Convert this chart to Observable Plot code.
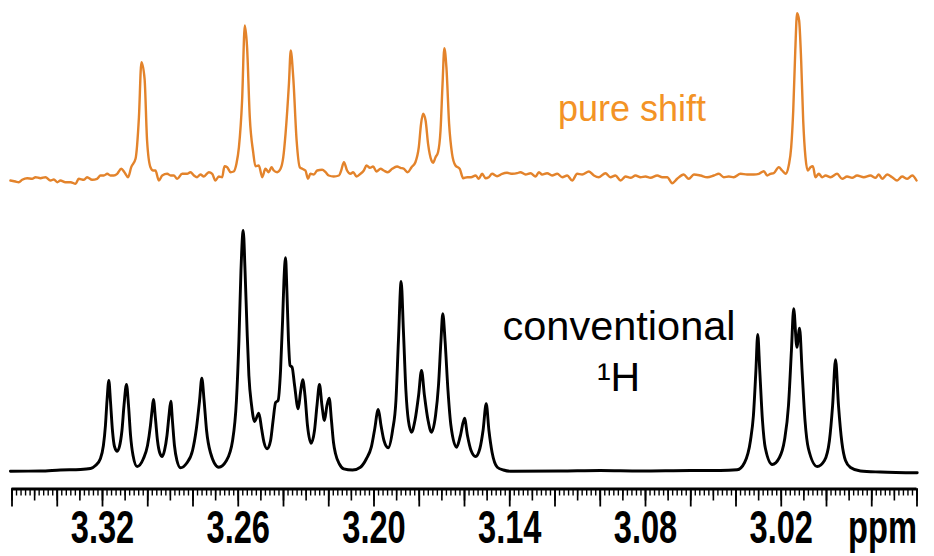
<!DOCTYPE html>
<html><head><meta charset="utf-8">
<script src="https://cdn.jsdelivr.net/npm/d3@7"></script>
<script src="https://cdn.jsdelivr.net/npm/@observablehq/plot@0.6"></script>
<style>body{margin:0;background:#fff} #chart svg{display:block}</style>
</head><body><div id="chart"></div>
<script>
// Conventional 1H spectrum: [chemical shift (ppm), intensity (a.u.)]
const conventional = [[3.3607,0],[3.3474,0.2],[3.3386,1.2],[3.3297,1.7],[3.3253,2.7],[3.3231,5.7],[3.3209,12.7],[3.3196,25.7],[3.3187,45.7],[3.3180,70.7],[3.3172,90.7],[3.3165,70.7],[3.3156,40.7],[3.3147,24.7],[3.3135,20],[3.3125,24.7],[3.3114,40.7],[3.3105,65.7],[3.3094,86.7],[3.3085,65.7],[3.3076,35.7],[3.3065,15.7],[3.3047,4.7],[3.3019,12.7],[3.3001,25.7],[3.2988,45.7],[3.2981,60.7],[3.2975,71.7],[3.2966,52.7],[3.2957,30.7],[3.2946,17.7],[3.2936,14.7],[3.2926,20.7],[3.2915,35.7],[3.2906,55.7],[3.2898,70],[3.2891,50.7],[3.2882,25.7],[3.2871,10.7],[3.2855,3.4],[3.2829,7.7],[3.2802,20.7],[3.2785,42.7],[3.2771,70.7],[3.2761,93],[3.2751,70.7],[3.2740,40.7],[3.2723,18.7],[3.2686,4],[3.2652,10.7],[3.2625,30.7],[3.2608,70.7],[3.2597,130.7],[3.2588,200.7],[3.2578,240.7],[3.2570,200.7],[3.2561,140.7],[3.2553,95.7],[3.2541,65.7],[3.2528,49.7],[3.2509,58],[3.2497,42.7],[3.2486,28.7],[3.2472,22.4],[3.2457,30.7],[3.2446,50.7],[3.2435,68.7],[3.2424,70.7],[3.2413,100.7],[3.2404,150.7],[3.2398,190.7],[3.2391,213.4],[3.2385,180.7],[3.2378,130.7],[3.2371,105.7],[3.2362,104],[3.2351,85.7],[3.2335,62.4],[3.2325,78.7],[3.2315,91.4],[3.2305,75.7],[3.2294,45.7],[3.2278,28],[3.2263,40.7],[3.2252,65.7],[3.2241,86.7],[3.2230,65.7],[3.2219,50.7],[3.2208,65.7],[3.2198,73],[3.2188,50.7],[3.2179,28.7],[3.2170,17.4],[3.2153,7.2],[3.2134,2.4],[3.2095,1.2],[3.2060,4],[3.2033,12.7],[3.2012,24],[3.1998,40.7],[3.1981,61.7],[3.1969,45.7],[3.1956,30.7],[3.1937,23.4],[3.1918,40.7],[3.1903,70.7],[3.1892,130.7],[3.1880,189.7],[3.1870,140.7],[3.1859,80.7],[3.1848,50.7],[3.1834,39],[3.1819,50.7],[3.1803,75.7],[3.1790,100.7],[3.1777,75.7],[3.1761,50.7],[3.1746,39],[3.1728,55.7],[3.1715,85.7],[3.1704,130.7],[3.1696,157.4],[3.1686,130.7],[3.1673,80.7],[3.1660,45.7],[3.1635,24],[3.1618,35.7],[3.1600,53],[3.1587,35.7],[3.1571,20.7],[3.1551,14.7],[3.1532,22.7],[3.1518,40.7],[3.1504,67.4],[3.1492,40.7],[3.1478,18.7],[3.1455,4],[3.1428,1.2],[3.1397,0],[3.1176,0.2],[3.0999,0.7],[3.0822,0.2],[3.0601,0.7],[3.0469,0.7],[3.0395,1.4],[3.0362,8.7],[3.0336,30.7],[3.0323,55.7],[3.0312,100.7],[3.0304,136.7],[3.0295,100.7],[3.0283,50.7],[3.0270,22.7],[3.0240,6.7],[3.0208,13.7],[3.0186,30.7],[3.0168,65.7],[3.0155,120.7],[3.0145,162.4],[3.0131,124],[3.0119,143],[3.0108,100.7],[3.0095,50.7],[3.0080,22.7],[3.0041,4.7],[3.0009,10.7],[2.9987,30.7],[2.9973,65.7],[2.9960,111.4],[2.9947,65.7],[2.9932,28.7],[2.9916,10.7],[2.9894,3.7],[2.9850,0.2],[2.9761,-0.8],[2.9599,-1.6]];

// Pure shift spectrum: [chemical shift (ppm), intensity (a.u.)]
const pureShift = [[3.3607,0],[3.3585,-1],[3.3570,-1.7],[3.3555,0.7],[3.3533,2.3],[3.3511,1.7],[3.3496,3.3],[3.3474,2.3],[3.3452,3.3],[3.3430,0],[3.3415,1],[3.3400,-1.7],[3.3386,0],[3.3364,-1.7],[3.3341,-1.7],[3.3319,-3.3],[3.3305,1.7],[3.3282,0.7],[3.3268,3.3],[3.3246,0.7],[3.3224,1.7],[3.3209,5],[3.3194,5],[3.3179,6.7],[3.3165,5],[3.3150,5],[3.3135,6.7],[3.3117,11.7],[3.3103,8.3],[3.3087,3.3],[3.3073,13.3],[3.3054,21.7],[3.3039,63.3],[3.3028,118.3],[3.3014,101.7],[3.3003,40],[3.2988,13.3],[3.2976,10],[3.2966,10],[3.2951,0],[3.2936,5],[3.2914,6.7],[3.2899,5],[3.2885,5],[3.2870,1.7],[3.2848,6.7],[3.2826,6.7],[3.2811,8.3],[3.2796,5],[3.2782,3.3],[3.2767,6],[3.2752,4],[3.2730,8.3],[3.2715,6.7],[3.2701,0],[3.2686,4],[3.2671,3.3],[3.2661,14.3],[3.2649,13.3],[3.2634,8.3],[3.2620,9],[3.2608,16.7],[3.2597,33.3],[3.2583,80],[3.2571,155],[3.2561,133.3],[3.2549,63.3],[3.2534,28.3],[3.2524,14.3],[3.2509,15],[3.2494,3.3],[3.2480,11.7],[3.2465,8.3],[3.2453,13.3],[3.2443,10],[3.2428,8.3],[3.2413,11.7],[3.2401,23.3],[3.2391,46.7],[3.2376,96.7],[3.2368,130],[3.2357,103.3],[3.2342,40],[3.2328,13.3],[3.2317,11.7],[3.2303,10],[3.2292,1.7],[3.2281,6.7],[3.2266,6],[3.2251,10],[3.2229,10.7],[3.2214,8.3],[3.2200,5],[3.2178,4],[3.2155,5],[3.2145,10],[3.2133,18.3],[3.2119,10],[3.2104,6.7],[3.2092,8.3],[3.2077,4],[3.2060,6.7],[3.2045,10],[3.2033,15],[3.2018,12.7],[3.2004,14],[3.1989,9],[3.1971,11.7],[3.1957,10],[3.1939,8.3],[3.1920,11.7],[3.1898,14],[3.1883,12.7],[3.1868,11.7],[3.1851,8.3],[3.1834,13.3],[3.1817,18.3],[3.1802,33.3],[3.1792,56.7],[3.1783,66.7],[3.1772,60],[3.1761,36.7],[3.1746,20],[3.1739,17.7],[3.1728,23.3],[3.1717,28.3],[3.1706,50],[3.1697,96.7],[3.1689,132.3],[3.1680,113.3],[3.1668,56.7],[3.1655,26.7],[3.1640,15],[3.1621,11.7],[3.1606,2.3],[3.1588,3.3],[3.1571,3.3],[3.1551,5],[3.1537,1.7],[3.1522,6.7],[3.1507,2.3],[3.1493,3.3],[3.1478,6.7],[3.1456,4.3],[3.1434,6.7],[3.1412,7.7],[3.1389,6.7],[3.1367,7.3],[3.1353,8.3],[3.1330,6],[3.1308,7.3],[3.1286,4],[3.1271,8.3],[3.1257,6],[3.1235,7.3],[3.1213,5],[3.1190,6.7],[3.1168,3.3],[3.1146,5],[3.1124,0],[3.1102,6.7],[3.1080,6],[3.1050,9],[3.1028,5],[3.1006,3.3],[3.0977,7.3],[3.0955,3.3],[3.0933,5],[3.0910,0],[3.0888,4],[3.0866,2.7],[3.0844,5],[3.0822,3.3],[3.0800,4],[3.0778,2.7],[3.0748,5],[3.0726,3.3],[3.0704,3.3],[3.0682,-2.7],[3.0660,1.7],[3.0631,6],[3.0609,1.7],[3.0586,6],[3.0557,5],[3.0527,3.3],[3.0498,5],[3.0476,6.7],[3.0454,3.3],[3.0432,4],[3.0410,3.3],[3.0380,6.7],[3.0351,6],[3.0321,6],[3.0299,6.7],[3.0277,9.3],[3.0262,5],[3.0248,6.7],[3.0233,7.3],[3.0211,13.3],[3.0196,10],[3.0181,6.7],[3.0167,15],[3.0156,33.3],[3.0147,70],[3.0138,130],[3.0130,167.3],[3.0121,160],[3.0112,120],[3.0103,60],[3.0093,23.3],[3.0083,10],[3.0071,13.3],[3.0060,14.3],[3.0049,3.3],[3.0034,6.7],[3.0019,3.3],[3.0004,5],[2.9982,3.3],[2.9953,6.7],[2.9931,1.7],[2.9909,4],[2.9887,2.7],[2.9865,5],[2.9835,3.3],[2.9806,5],[2.9783,2.7],[2.9769,6],[2.9754,1.7],[2.9732,6],[2.9710,3.3],[2.9688,0],[2.9666,4],[2.9643,1.7],[2.9621,5],[2.9602,0]];

const tickLabels = [3.32, 3.26, 3.20, 3.14, 3.08, 3.02];
const axisUnit = "ppm";
const pureLabel = "pure shift";
const convLabel = ["conventional", "\u00B9H"];

// layout constants
const WIDTH = 934, HEIGHT = 556, M_LEFT = 11.5, M_RIGHT = 17.5;
const X_DOMAIN = [3.36, 2.96];
const Y_DOMAIN = [-17.8, 470.7];
const PURE_OFFSET = 290.7; // vertical stacking of the pure shift trace
const LABEL_SIZE = 46, LABEL_PAD = 21;
const NARROW = 0.71; // horizontal squeeze of the bold axis lettering

const convRows = conventional.map(([ppm, v]) => ({ppm, y: v}));
const pureRows = pureShift.map(([ppm, v]) => ({ppm, y: v + PURE_OFFSET}));

const minorTicks = d3.range(0, 201).map(i => +(2.96 + i * 0.002).toFixed(3));
const midTicks = d3.range(0, 41).map(i => +(2.96 + i * 0.01).toFixed(2));
const majorTicks = d3.range(0, 21).map(i => +(2.96 + i * 0.02).toFixed(2));

const FONT = "'Liberation Sans', Arial, Helvetica, sans-serif";

const chart = Plot.plot({
  width: WIDTH, height: HEIGHT,
  marginLeft: M_LEFT, marginRight: M_RIGHT, marginTop: 0, marginBottom: 67.5,
  style: {fontFamily: FONT, background: "white", color: "black"},
  x: {domain: X_DOMAIN, label: null},
  y: {domain: Y_DOMAIN, axis: null},
  marks: [
    Plot.line(pureRows, {x: "ppm", y: "y", stroke: "#E3832B", strokeWidth: 2.4, curve: "monotone-x"}),
    Plot.line(convRows, {x: "ppm", y: "y", stroke: "#000", strokeWidth: 2.9, curve: "monotone-x"}),
    Plot.axisX(minorTicks, {anchor: "bottom", tickSize: 7, strokeWidth: 1.4, tickFormat: () => "", label: null}),
    Plot.axisX(midTicks, {anchor: "bottom", tickSize: 12, strokeWidth: 1.6, tickFormat: () => "", label: null}),
    Plot.axisX(majorTicks, {anchor: "bottom", tickSize: 18, strokeWidth: 1.8, tickFormat: () => "", label: null}),
    Plot.ruleY([Y_DOMAIN[0]], {stroke: "#000", strokeWidth: 3.2}),
    Plot.axisX(tickLabels, {anchor: "bottom", tickSize: 0, tickPadding: LABEL_PAD, fontSize: LABEL_SIZE, fontWeight: "bold",
      tickFormat: d => d.toFixed(2), label: null}),
    Plot.text([axisUnit], {text: d => d, frameAnchor: "bottom-right", textAnchor: "end", lineAnchor: "top",
      dy: LABEL_PAD, fontSize: LABEL_SIZE, fontWeight: "bold"}),
    Plot.text([pureLabel], {text: d => d, x: 3.086, y: 350.7, textAnchor: "middle", lineAnchor: "bottom",
      fill: "#F39325", fontSize: 36}),
    Plot.text([convLabel[0]], {text: d => d, x: 3.0917, y: 131.7, textAnchor: "middle", lineAnchor: "bottom",
      fill: "#000", fontSize: 41.5}),
    Plot.text([convLabel[1]], {text: d => d, x: 3.0919, y: 80.7, textAnchor: "middle", lineAnchor: "bottom",
      fill: "#000", fontSize: 41})
  ]
});
// condensed look of the axis lettering: squeeze each label horizontally about its anchor
const xs = chart.scale("x");
const labelSet = new Map(tickLabels.map(d => [d.toFixed(2), xs.apply(d)]));
const squeeze = (t, cx) => {
  const g = document.createElementNS("http://www.w3.org/2000/svg", "g");
  g.setAttribute("transform", `translate(${cx},0) scale(${NARROW},1) translate(${-cx},0)`);
  t.parentNode.insertBefore(g, t);
  g.appendChild(t);
};
Array.from(chart.querySelectorAll("text")).forEach(t => {
  const s = t.textContent;
  if (labelSet.has(s)) squeeze(t, labelSet.get(s));
  else if (s === axisUnit) squeeze(t, WIDTH - M_RIGHT);
});
document.getElementById("chart").appendChild(chart);
</script>
</body></html>
